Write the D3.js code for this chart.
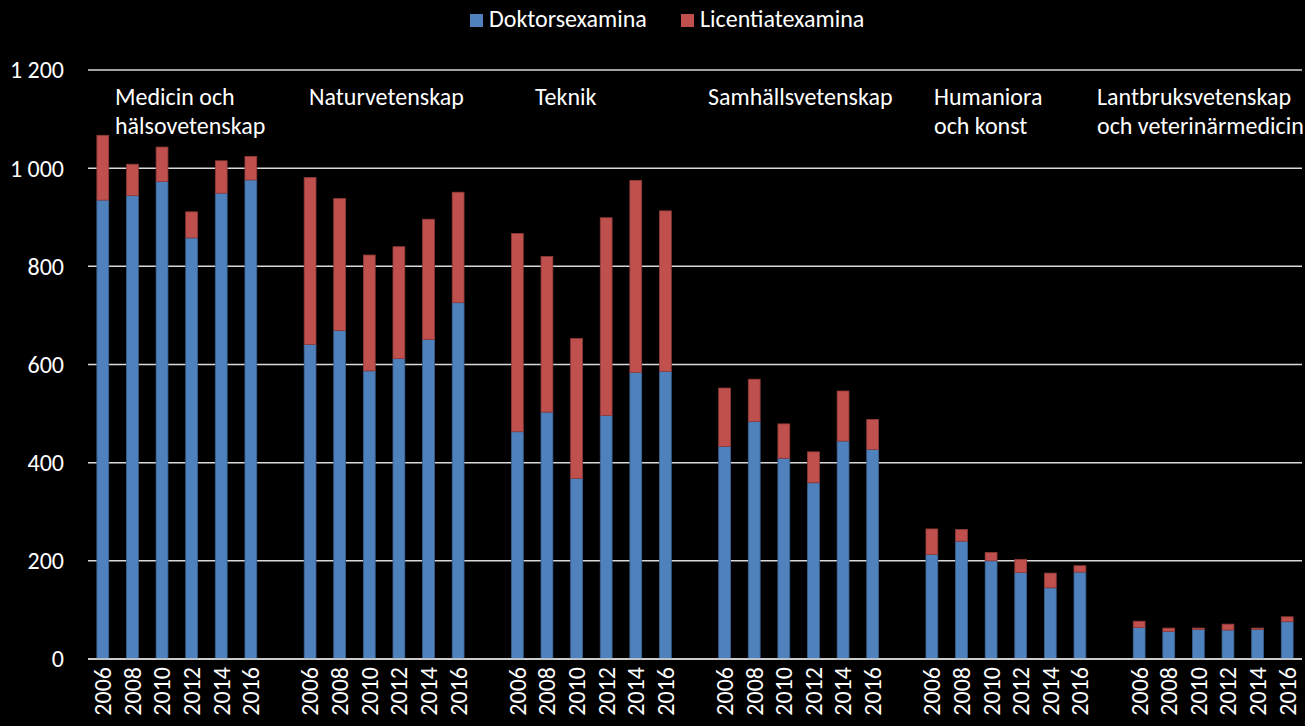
<!DOCTYPE html>
<html>
<head>
<meta charset="utf-8">
<script src="https://cdn.jsdelivr.net/npm/d3@7"></script>
<style>
  html, body { margin: 0; padding: 0; background: #000; }
  svg { display: block; font-family: Carlito, Calibri, "Open Sans", sans-serif; }
</style>
</head>
<body>
<svg id="chart" width="1305" height="726"></svg>
<script>
// categories
const groups = [
  ["Medicin och", "hälsovetenskap"],
  ["Naturvetenskap"],
  ["Teknik"],
  ["Samhällsvetenskap"],
  ["Humaniora", "och konst"],
  ["Lantbruksvetenskap", "och veterinärmedicin"]
];
const years = ["2006", "2008", "2010", "2012", "2014", "2016"];

// values per group, in year order
const doktor = [
  [935, 944, 973, 858, 949, 976],
  [641, 669, 587, 612, 651, 726],
  [463, 503, 368, 496, 584, 586],
  [433, 484, 409, 359, 444, 427],
  [213, 240, 200, 176, 145, 177],
  [64, 56, 60, 59, 60, 76]
];
const licentiat = [
  [132, 64, 70, 53, 66, 48],
  [340, 269, 236, 228, 245, 225],
  [404, 317, 285, 403, 391, 327],
  [119, 86, 70, 63, 102, 61],
  [52, 24, 17, 27, 30, 13],
  [13, 7, 3, 12, 3, 10]
];
const yTicks = [0, 200, 400, 600, 800, 1000, 1200];
const seriesNames = ["Doktorsexamina", "Licentiatexamina"];
const colors = ["#4f81bd", "#c0504d"];
const strokes = ["#3b6291", "#8e3b39"];

const svg = d3.select("#chart");
const plot = { left: 88, right: 1302, top: 70, bottom: 659 };

// one empty slot between groups
const slots = [];
groups.forEach((g, gi) => {
  years.forEach((yr, yi) => slots.push({ key: gi + "-" + yi, gi, yi, year: yr }));
  if (gi < groups.length - 1) slots.push({ key: "gap" + gi, gap: true });
});

const x = d3.scaleBand()
  .domain(slots.map(s => s.key))
  .range([plot.left, plot.right])
  .paddingInner(0.6)
  .paddingOuter(0.3);

const y = d3.scaleLinear().domain([0, 1200]).range([plot.bottom, plot.top]);

// gridlines
svg.append("g").selectAll("line")
  .data(yTicks)
  .join("line")
  .attr("x1", plot.left).attr("x2", plot.right)
  .attr("y1", d => y(d)).attr("y2", d => y(d))
  .attr("stroke", "#d9d9d9")
  .attr("stroke-width", 1.5);

// y tick labels
svg.append("g").selectAll("text")
  .data(yTicks)
  .join("text")
  .attr("x", 64)
  .attr("y", d => y(d))
  .attr("dy", "0.35em")
  .attr("text-anchor", "end")
  .attr("fill", "#fff")
  .attr("font-size", 24)
  .text(d => d3.format(",")(d).replace(",", " "));

// bars
const bars = slots.filter(s => !s.gap).map(s => ({
  ...s,
  d: doktor[s.gi][s.yi],
  l: licentiat[s.gi][s.yi]
}));

const bw = x.bandwidth();
const barG = svg.append("g");
barG.selectAll("rect.d")
  .data(bars)
  .join("rect")
  .attr("class", "d")
  .attr("x", b => x(b.key))
  .attr("width", bw)
  .attr("y", b => y(b.d))
  .attr("height", b => y(0) - y(b.d))
  .attr("fill", colors[0])
  .attr("stroke", strokes[0])
  .attr("stroke-width", 0.8);

barG.selectAll("rect.l")
  .data(bars)
  .join("rect")
  .attr("class", "l")
  .attr("x", b => x(b.key))
  .attr("width", bw)
  .attr("y", b => y(b.d + b.l))
  .attr("height", b => y(b.d) - y(b.d + b.l))
  .attr("fill", colors[1])
  .attr("stroke", strokes[1])
  .attr("stroke-width", 0.8);

// x axis line
svg.append("line")
  .attr("x1", plot.left).attr("x2", plot.right)
  .attr("y1", plot.bottom).attr("y2", plot.bottom)
  .attr("stroke", "#d9d9d9")
  .attr("stroke-width", 1.5);

// year labels (rotated)
svg.append("g").selectAll("text")
  .data(bars)
  .join("text")
  .attr("transform", b => `translate(${x(b.key) + bw / 2},${plot.bottom + 8}) rotate(-90)`)
  .attr("text-anchor", "end")
  .attr("dy", "0.35em")
  .attr("fill", "#fff")
  .attr("font-size", 24)
  .text(b => b.year);

// group labels
const labelX = [115, 309, 535, 708, 934, 1097];
groups.forEach((lines, gi) => {
  const t = svg.append("text")
    .attr("x", labelX[gi])
    .attr("y", 105)
    .attr("fill", "#fff")
    .attr("font-size", 24);
  lines.forEach((ln, i) => {
    t.append("tspan").attr("x", labelX[gi]).attr("dy", i === 0 ? 0 : 29).text(ln);
  });
});

// legend
const legend = svg.append("g");
const legX = [470, 681];
seriesNames.forEach((name, i) => {
  legend.append("rect")
    .attr("x", legX[i]).attr("y", 14)
    .attr("width", 13).attr("height", 13)
    .attr("fill", colors[i]);
  legend.append("text")
    .attr("x", legX[i] + 19).attr("y", 18.5)
    .attr("dy", "0.35em")
    .attr("fill", "#fff")
    .attr("font-size", 24)
    .text(name);
});
</script>
</body>
</html>
